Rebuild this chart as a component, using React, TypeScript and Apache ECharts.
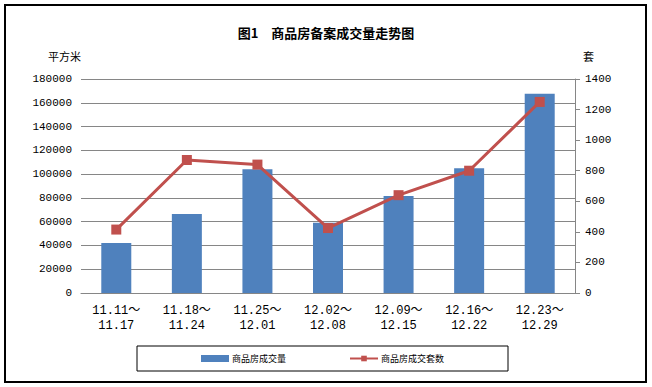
import React, { useEffect, useRef } from "react";
import * as echarts from "echarts";

const titleText = "图1　商品房备案成交量走势图";
const categories = [
  "11.11～\n11.17",
  "11.18～\n11.24",
  "11.25～\n12.01",
  "12.02～\n12.08",
  "12.09～\n12.15",
  "12.16～\n12.22",
  "12.23～\n12.29",
];
const areaValues = [42000, 66500, 104000, 59000, 81500, 105000, 167500];
const unitValues = [415, 870, 840, 425, 640, 800, 1250];
const areaName = "商品房成交量";
const unitName = "商品房成交套数";
const leftAxisName = "平方米";
const rightAxisName = "套";

const numFont = "'Liberation Mono', 'Noto Sans CJK SC', monospace";
const cjkFont = "'Noto Sans CJK SC', sans-serif";

export default function App() {
  const ref = useRef<HTMLDivElement>(null);
  useEffect(() => {
    if (!ref.current) return;
    const chart = echarts.init(ref.current, undefined, { renderer: "svg" });
    chart.setOption({
      animation: false,
      backgroundColor: "#ffffff",
      title: {
        text: titleText,
        left: "center",
        top: 21,
        textStyle: {
          fontFamily: cjkFont,
          fontSize: 13,
          fontWeight: "bold",
          color: "#000000",
        },
      },
      legend: {
        left: 137,
        top: 346,
        padding: [8, 64, 8, 64],
        borderColor: "#000000",
        borderWidth: 1,
        itemGap: 63,
        itemWidth: 28,
        itemHeight: 7,
        textStyle: { fontFamily: cjkFont, fontSize: 9, color: "#000000", padding: [0, 0, 0, -2] },
        data: [
          { name: areaName, icon: "rect" },
          { name: unitName },
        ],
      },
      grid: { left: 81, right: 77, top: 79, bottom: 94 },
      xAxis: {
        type: "category",
        data: categories,
        axisLine: { lineStyle: { color: "#868686", width: 1 } },
        axisTick: { show: false },
        axisLabel: {
          fontFamily: numFont,
          fontSize: 12,
          color: "#000000",
          lineHeight: 15,
          margin: 10,
          interval: 0,
        },
      },
      yAxis: [
        {
          type: "value",
          min: 0,
          max: 180000,
          interval: 20000,
          name: leftAxisName,
          nameLocation: "end",
          nameGap: 18,
          nameTextStyle: { fontFamily: cjkFont, fontSize: 11, color: "#000000", align: "right" },
          axisLine: { show: false },
          axisTick: { show: false },
          axisLabel: {
            fontFamily: numFont,
            fontSize: 11,
            color: "#000000",
            margin: 9,
            formatter: (v: number) => String(v),
          },
          splitLine: { lineStyle: { color: "#868686", width: 1 } },
        },
        {
          type: "value",
          min: 0,
          max: 1400,
          interval: 200,
          position: "right",
          name: rightAxisName,
          nameLocation: "end",
          nameGap: 18,
          nameTextStyle: {
            fontFamily: cjkFont,
            fontSize: 11,
            color: "#000000",
            align: "left",
            padding: [0, 0, 0, 8],
          },
          axisLine: { show: true, lineStyle: { color: "#868686", width: 1 } },
          axisTick: { show: true, length: 5, lineStyle: { color: "#868686" } },
          axisLabel: {
            fontFamily: numFont,
            fontSize: 11,
            color: "#000000",
            margin: 10,
            formatter: (v: number) => String(v),
          },
          splitLine: { show: false },
        },
      ],
      series: [
        {
          name: areaName,
          type: "bar",
          data: areaValues,
          barWidth: 30,
          yAxisIndex: 0,
          itemStyle: { color: "#4F81BD" },
        },
        {
          name: unitName,
          type: "line",
          data: unitValues,
          yAxisIndex: 1,
          symbol: "rect",
          symbolSize: 10,
          lineStyle: { color: "#C0504D", width: 3 },
          itemStyle: { color: "#C0504D" },
        },
      ],
      graphic: [
        {
          type: "rect",
          shape: { x: 5, y: 5, width: 641, height: 377 },
          style: { fill: "none", stroke: "#000000", lineWidth: 2 },
          silent: true,
        },
      ],
    });
    return () => chart.dispose();
  }, []);
  return (
    <div
      ref={ref}
      style={{ position: "fixed", left: 0, top: 0, width: 652, height: 387 }}
    />
  );
}
